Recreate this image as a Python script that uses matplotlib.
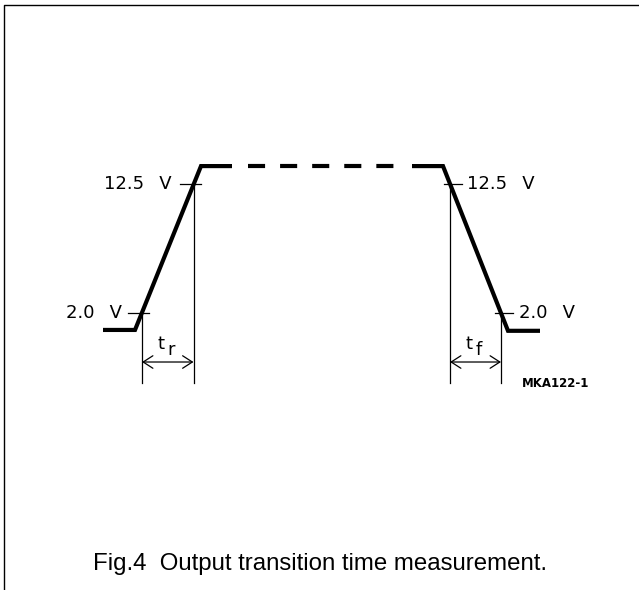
import matplotlib
matplotlib.use("Agg")
import matplotlib.pyplot as plt

plt.rcParams["lines.scale_dashes"] = False

# waveform, time in arbitrary units, level in volts
rise_t = [103, 135, 201, 232]
rise_v = [0.62, 0.62, 13.96, 13.96]
dash_t = [248, 395]
fall_t = [412, 443, 508, 540]
fall_v = [13.96, 13.96, 0.55, 0.55]
high_v = 13.96

# measurement points (time, volts)
levels = [2.0, 12.5]
level_labels = ["2.0  \u2009V", "12.5  \u2009V"]
rise_cross = [142, 193.5]
fall_cross = [501, 450]
left_label_end = [122, 172]
right_label_start = [519, 467]

arrow_v = -1.99
line_bottom_v = -3.7

fig = plt.figure(figsize=(6.39, 5.9), dpi=100)
ax = fig.add_axes([0, 0, 1, 1])
ax.set_xlim(0, 639)
ax.set_ylim(-20.55, 27.48)
ax.axis("off")

# frame (top and left only)
ax.plot([4, 4, 639], [-20.55, 27.07, 27.07], color="black", lw=1.0, clip_on=False)

# thick waveform
ax.plot(rise_t, rise_v, color="black", lw=3.0, solid_joinstyle="miter", solid_capstyle="butt")
ax.plot(fall_t, fall_v, color="black", lw=3.0, solid_joinstyle="miter", solid_capstyle="butt")
ax.plot(dash_t, [high_v, high_v], color="black", lw=3.0,
        linestyle=(0, (12.3, 10.8)), dash_capstyle="butt")

# level ticks and labels
for v, lab, xr, xf, le, rs in zip(levels, level_labels, rise_cross, fall_cross,
                                  left_label_end, right_label_start):
    ax.plot([xr - 14, xr + 7], [v, v], color="black", lw=0.9)
    ax.plot([xf - 6, xf + 12], [v, v], color="black", lw=0.9)
    ax.text(le, v, lab, ha="right", va="center", fontsize=13,
            family="DejaVu Sans")
    ax.text(rs, v, lab, ha="left", va="center", fontsize=13,
            family="DejaVu Sans")

# vertical reference lines and time arrows
for (a, b), sub in [(rise_cross, "r"), (fall_cross[::-1], "f")]:
    top_a = levels[0] if sub == "r" else levels[1]
    top_b = levels[1] if sub == "r" else levels[0]
    ax.plot([a, a], [top_a, line_bottom_v], color="black", lw=0.9)
    ax.plot([b, b], [top_b, line_bottom_v], color="black", lw=0.9)
    ax.annotate("", xy=(a, arrow_v), xytext=(b, arrow_v),
                arrowprops=dict(arrowstyle="<->,head_length=0.7,head_width=0.45",
                                color="black", lw=0.9, shrinkA=0, shrinkB=0))
    mid = (a + b) / 2
    ax.text(mid - 3, -0.55, "t", ha="right", va="center", fontsize=13,
            family="DejaVu Sans")
    ax.text(mid, -1.0, sub, ha="left", va="center", fontsize=13,
            family="DejaVu Sans")

ax.text(522, -3.7, "MKA122-1", ha="left", va="center", fontsize=8.5,
        fontweight="bold", family="DejaVu Sans")

ax.text(320, -18.9, "Fig.4  Output transition time measurement.",
        ha="center", va="baseline", fontsize=17.3, family="Liberation Sans")

fig.savefig("out.png", dpi=100)
